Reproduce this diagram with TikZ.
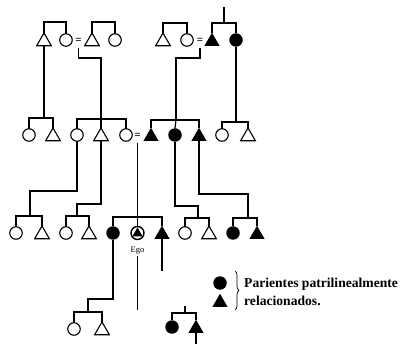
\documentclass[tikz,border=0pt]{standalone}
\usepackage{fontspec}
\setmainfont{Liberation Serif}
\usetikzlibrary{shapes.geometric,decorations.pathreplacing}
\begin{document}
\begin{tikzpicture}[x=1pt,y=-1pt,
  lin/.style={line width=1.2pt},
  oc/.style={circle,draw,line width=1.1pt,minimum size=12.5pt,inner sep=0pt,outer sep=0pt},
  fc/.style={circle,fill,minimum size=13.5pt,inner sep=0pt,outer sep=0pt},
  ot/.style={regular polygon,regular polygon sides=3,draw,line width=1.1pt,minimum size=17pt,inner sep=0pt,outer sep=0pt},
  ft/.style={regular polygon,regular polygon sides=3,fill,minimum size=17.5pt,inner sep=0pt,outer sep=0pt},
  eq/.style={inner sep=0pt,minimum height=14pt,font=\bfseries\fontsize{11}{11}\selectfont},
]
\useasboundingbox[fill=white] (0,0) rectangle (406,344);
% ---------- row 1
\node[ot] (a1) at (44,41.5) {};
\node[oc] (a2) at (66,40) {};
\node[eq] (m1) at (78.5,40.5) {=};
\node[ot] (a3) at (92,41.5) {};
\node[oc] (a4) at (115,40) {};
\node[ot] (a5) at (163,41.5) {};
\node[oc] (a6) at (187,40) {};
\node[eq] (m2) at (200,40.5) {=};
\node[ft] (a7) at (212,41.5) {};
\node[fc] (a8) at (236,40) {};
\coordinate (top) at (224,7);
\draw[lin] (a1.corner 1) -- (a1.corner 1 |- 0,22) -| (a2.north);
\draw[lin] (a3.corner 1) -- (a3.corner 1 |- 0,22) -| (a4.north);
\draw[lin] (a5.corner 1) -- (a5.corner 1 |- 0,23) -| (a6.north);
\draw[lin] (a7.corner 1) -- (a7.corner 1 |- 0,23) -| (a8.north);
\draw[lin] (top) -- (top |- 0,23);
% ---------- row 2
\node[oc] (b1) at (29,135) {};
\node[ot] (b2) at (53,136.5) {};
\node[oc] (b3) at (77,135) {};
\node[ot] (b4) at (101,136.5) {};
\node[oc] (b5) at (126,135) {};
\node[eq] (m3) at (137.5,135.5) {=};
\node[ft] (b6) at (151,136.5) {};
\node[fc] (b7) at (175,135) {};
\node[ft] (b8) at (199,136.5) {};
\node[oc] (b9) at (222,135) {};
\node[ot] (b10) at (248,136.5) {};
\coordinate (jA) at (44,118);
\coordinate (jB) at (101,119);
\coordinate (jC) at (176,120);
\coordinate (jD) at (236,122);
\draw[lin] (b1.north) -- (b1.north |- jA) -| (b2.corner 1);
\draw[lin] (b3.north) -- (b3.north |- jB) -| (b5.north);
\draw[lin] (b4.corner 1) -- (jB);
\draw[lin] (b6.corner 1) -- (b6.corner 1 |- jC) -| (b8.corner 1);
\draw[lin] (b7.north) -- (jC);
\draw[lin] (b9.north) -- (b9.north |- jD) -| (b10.corner 1);
\draw[lin] (a1.side 2) -- (jA);
\draw[lin] (m1.south) -- (m1.south |- 0,58) -| (jB);
\draw[lin] (m2.south) -- (m2.south |- 0,58) -| (jC);
\draw[lin] (a8.south) -- (jD);
% ---------- row 3
\node[oc] (c1) at (16,233) {};
\node[ot] (c2) at (42,234.5) {};
\node[oc] (c3) at (66,233) {};
\node[ot] (c4) at (89,234.5) {};
\node[fc] (c5) at (113,233) {};
\node[circle,draw,line width=1.4pt,minimum size=13pt,inner sep=0pt] (ego) at (137.5,233) {};
\node[ft,minimum size=12pt] (egot) at (137.5,233.5) {};
\node[ft] (c6) at (162,234.5) {};
\node[oc] (c7) at (185,233) {};
\node[ot] (c8) at (209,234.5) {};
\node[fc] (c9) at (233,233) {};
\node[ft] (c10) at (257,234.5) {};
\coordinate (jE) at (30,216);
\coordinate (jF) at (77,216);
\coordinate (jG) at (137.5,217);
\coordinate (jH) at (198,218);
\coordinate (jI) at (248,218);
\draw[lin] (c1.north) -- (c1.north |- jE) -| (c2.corner 1);
\draw[lin] (c3.north) -- (c3.north |- jF) -| (c4.corner 1);
\draw[lin] (c5.north) -- (c5.north |- jG) -| (c6.corner 1);
\draw[lin] (ego.north) -- (jG);
\draw[lin] (c7.north) -- (c7.north |- jH) -| (c8.corner 1);
\draw[lin] (c9.north) -- (c9.north |- jI) -| (c10.corner 1);
\draw[lin] (b3.south) -- (b3.south |- 0,191) -| (jE);
\draw[lin] (b4.side 2) -- (b4.side 2 |- 0,204) -| (jF);
\draw[lin] (m3.south) -- (jG);
\draw[lin] (b7.south) -- (b7.south |- 0,206) -| (jH);
\draw[lin] (b8.side 2) -- (b8.side 2 |- 0,194) -| (jI);
\node[font=\fontsize{8.5}{8.5}\selectfont,inner sep=1pt] (egol) at (137.5,251) {Ego};
\coordinate (egoend) at (137.5,310);
\draw[line width=1pt] (egol.south) -- (egoend);
\coordinate (c6end) at (162,271);
\draw[lin] (c6.side 2) -- (c6end);
% ---------- bottom
\node[oc] (d1) at (74,329) {};
\node[ot] (d2) at (102,330.5) {};
\coordinate (jJ) at (88,312);
\draw[lin] (d1.north) -- (d1.north |- jJ) -| (d2.corner 1);
\draw[lin] (c5.south) -- (c5.south |- 0,299) -| (jJ);
\node[fc] (e1) at (172,327) {};
\node[ft] (e2) at (196,328.5) {};
\coordinate (eTop) at (185,306);
\coordinate (eTail) at (196,344);
\draw[lin] (e1.north) -- (e1.north |- 0,313) -| (e2.corner 1);
\draw[lin] (eTop) -- (eTop |- 0,313);
\draw[lin] (e2.side 2) -- (eTail);
% ---------- legend
\node[fc] (l1) at (220,283) {};
\node[ft] (l2) at (220,302.5) {};
\coordinate (br1) at (235,271);
\coordinate (br2) at (235,310);
\draw[line width=0.7pt,decorate,decoration={brace,amplitude=4pt}] (br1) -- (br2);
\node[anchor=west,align=left,inner sep=0pt,font=\bfseries\fontsize{13.6}{18}\selectfont] (txt) at (244,292) {Parientes patrilinealmente\\relacionados.};
\end{tikzpicture}
\end{document}
